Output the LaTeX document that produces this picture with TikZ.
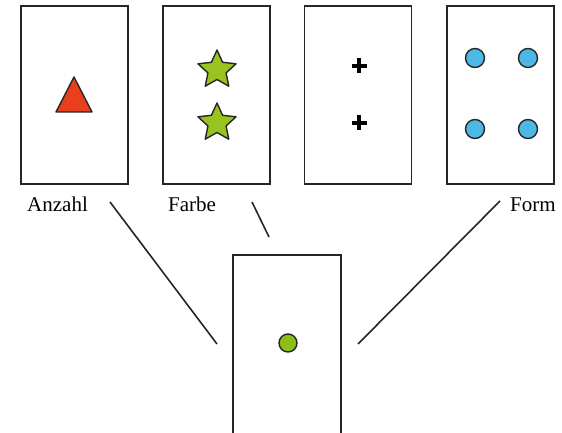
\documentclass[tikz,border=0pt]{standalone}
\usepackage{fontspec}
\setmainfont{Liberation Serif}
\usetikzlibrary{shapes.geometric}
\definecolor{tri}{HTML}{E8401C}
\definecolor{stargreen}{HTML}{99C31E}
\definecolor{dotblue}{HTML}{4DB8E6}
\definecolor{dotgreen}{HTML}{8CBE1A}
\tikzset{
  card/.style={draw=black!85, line width=1.7pt, fill=white, minimum width=107pt, minimum height=178pt, inner sep=0pt},
  lbl/.style={font=\fontsize{21}{24}\selectfont, inner sep=0pt, anchor=base west},
  conn/.style={draw=black!85, line width=1.6pt},
  bluedot/.style={circle, draw=black!85, line width=1.4pt, fill=dotblue, minimum size=19pt, inner sep=0pt},
  greenstar/.style={star, star points=5, star point ratio=2.1, draw=black!85, line width=1.4pt, line join=round, fill=stargreen, minimum size=40pt, inner sep=0pt},
  plusarm/.style={line width=4.6pt, draw=black}
}
\begin{document}
\begin{tikzpicture}[x=1pt, y=-1pt]
\useasboundingbox (0,0) rectangle (562,433);
\fill[white] (0,0) rectangle (562,433);
% top cards
\node[card] (c1) at (74.5,95) {};
\node[card] (c2) at (216.5,95) {};
\node[card] (c3) at (358,95) {};
\node[card] (c4) at (500.5,95) {};
% bottom card
\draw[draw=black!85, line width=1.7pt] (233,440) |- (341,255) -- (341,440);
\node[inner sep=0pt, minimum width=108pt, minimum height=180pt] (c5) at (287,345) {};
% triangle
\filldraw[fill=tri, draw=black!85, line width=1.4pt, line join=round] (56,112) -- (74,77) -- (92,112) -- cycle;
% stars
\node[greenstar] (s1) at (217,70) {};
\node[greenstar] (s2) at (217,123) {};
% plus signs
\draw[plusarm] (351.5,66) -- (366.5,66) (359,58.5) -- (359,73.5);
\draw[plusarm] (351.5,123) -- (366.5,123) (359,115.5) -- (359,130.5);
% blue dots
\node[bluedot] (b1) at (475,58) {};
\node[bluedot] (b2) at (528,58) {};
\node[bluedot] (b3) at (475,129) {};
\node[bluedot] (b4) at (528,129) {};
% green dot
\node[circle, draw=black!85, line width=1.4pt, fill=dotgreen, minimum size=18pt, inner sep=0pt] (g) at (288,343) {};
% labels
\node[lbl] (la) at (27,211) {Anzahl};
\node[lbl] (lf) at (168,211) {Farbe};
\node[lbl] (lo) at (510,211) {Form};
% connectors
\coordinate (a1) at (110,202);
\coordinate (a2) at (217,344);
\coordinate (f1) at (252,202);
\coordinate (f2) at (269,237);
\coordinate (o1) at (500,201);
\coordinate (o2) at (358,344);
\draw[conn] (a1) -- (a2);
\draw[conn] (f1) -- (f2);
\draw[conn] (o1) -- (o2);
\end{tikzpicture}
\end{document}
